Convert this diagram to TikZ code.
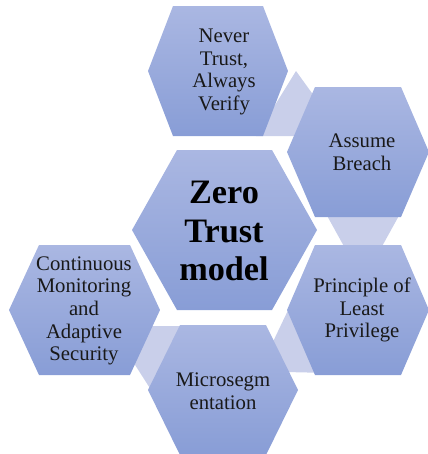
\documentclass[tikz,border=0pt]{standalone}
\usepackage{fontspec}
\setmainfont{Liberation Serif}
\definecolor{hextop}{RGB}{170,183,226}
\definecolor{hexbot}{RGB}{136,157,214}
\definecolor{linkfill}{RGB}{201,207,234}
\tikzset{
  hexfill/.style={top color=hextop, bottom color=hexbot},
  linkbar/.style={fill=linkfill},
  txt/.style={align=center, inner sep=0pt, text=black!90,
    font=\fontsize{11.8}{12.9}\selectfont},
  bigtxt/.style={align=center, inner sep=0pt,
    font=\fontsize{19.5}{21.8}\selectfont\bfseries}
}
\begin{document}
\begin{tikzpicture}[x=0.02cm,y=-0.02cm]
\useasboundingbox (0,0) rectangle (428,454);

% light links between neighbours
\fill[linkbar] (296,71) -- (322,107) -- (300,136) -- (256,136) -- cycle;
\fill[linkbar] (325,212) -- (401,212) -- (380,250) -- (346,250) -- cycle;
\fill[linkbar] (291,304) -- (330,373) -- (285,372) -- (270,348) -- cycle;
\fill[linkbar] (145,326) -- (188,326) -- (153,393) -- (130,357) -- cycle;

% hexagons
\shade[hexfill] (132,230) -- ++(45,-80) -- ++(95,0) -- ++(45,80) -- ++(-45,80) -- ++(-95,0) -- cycle;
\shade[hexfill] (148,71) -- ++(25,-65) -- ++(90,0) -- ++(25,65) -- ++(-25,65) -- ++(-90,0) -- cycle;
\shade[hexfill] (287,152) -- ++(28,-65) -- ++(86,0) -- ++(28,65) -- ++(-28,65) -- ++(-86,0) -- cycle;
\shade[hexfill] (287,310) -- ++(28,-65) -- ++(86,0) -- ++(28,65) -- ++(-28,65) -- ++(-86,0) -- cycle;
\shade[hexfill] (148,390) -- ++(32,-65) -- ++(86,0) -- ++(32,65) -- ++(-32,65) -- ++(-86,0) -- cycle;
\shade[hexfill] (9,310) -- ++(30,-65) -- ++(91,0) -- ++(30,65) -- ++(-30,65) -- ++(-91,0) -- cycle;

\node[bigtxt] (zt) at (224,231) {Zero\\Trust\\model};
\node[txt] (never) at (224,72) {Never\\Trust,\\Always\\Verify};
\node[txt] (breach) at (362,152) {Assume\\Breach};
\node[txt] (least) at (362,310) {Principle of\\Least\\Privilege};
\node[txt] (microseg) at (223,391) {Microsegm\\entation};
\node[txt] (monitor) at (84,311) {Continuous\\Monitoring\\and\\Adaptive\\Security};
\end{tikzpicture}
\end{document}
